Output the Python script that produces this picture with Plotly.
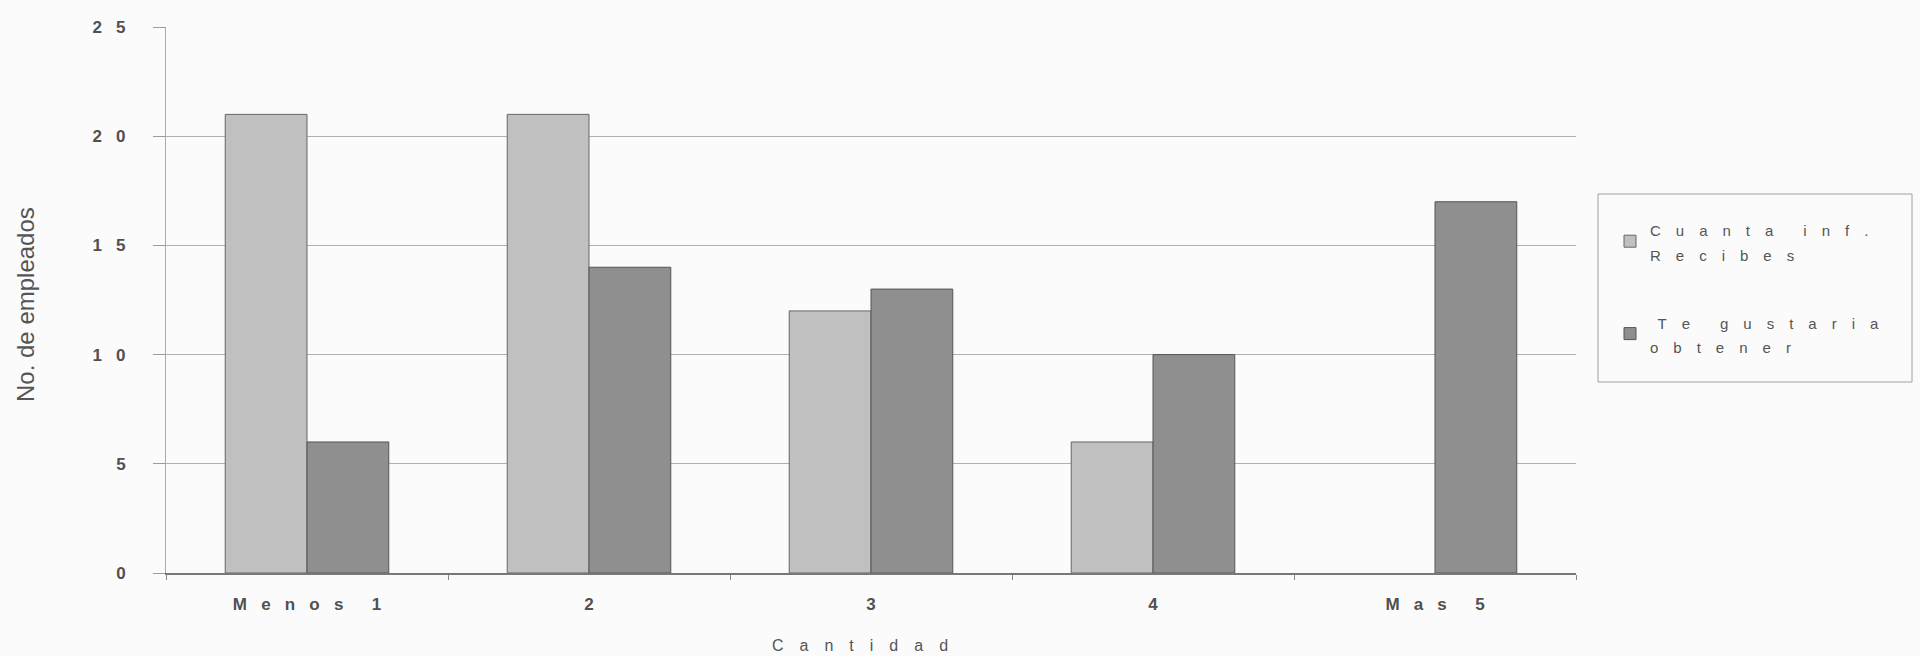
import plotly.graph_objects as go

categories = ["Menos 1", "2", "3", "4", "Mas 5"]
recibes = [21, 21, 12, 6, 0]
obtener = [6, 14, 13, 10, 17]
series_names = [["Cuanta inf.", "Recibes"], [" Te gustaria", "obtener"]]
y_ticks = [0, 5, 10, 15, 20, 25]
y_tick_labels = ["0", "5", "10", "15", "20", "25"]
x_title = "Cantidad"
y_title = "No. de empleados"

EM = "\u2003"
EN = "\u2002"
GAP_TICK = "\u2002\u2004"   # ~0.83 em letter spacing


def spaced(s, gap):
    # letter-spaced rendering as in the original (scanned Excel chart)
    out = []
    for i, ch in enumerate(s):
        if ch == " ":
            out.append(EN if i == 0 else gap)
        else:
            out.append(ch)
            if i < len(s) - 1:
                out.append(gap)
    return "".join(out)


def legend_name(parts):
    return "<br>".join(
        '<span style="font-size:15px">' + spaced(p, EM) + "</span>" for p in parts
    )


font_family = "Liberation Sans, Arial, sans-serif"
text_color = "#404040"

fig = go.Figure()
fig.add_trace(go.Bar(
    x=[spaced(c, GAP_TICK) for c in categories], y=recibes,
    name=legend_name(series_names[0]),
    legendgroup="a",
    marker=dict(color="#c0c0c0",
                line=dict(color="#666666", width=[1 if v > 0 else 0 for v in recibes])),
))
fig.add_trace(go.Bar(
    x=[spaced(c, GAP_TICK) for c in categories], y=obtener,
    name=legend_name(series_names[1]),
    legendgroup="b",
    marker=dict(color="#8f8f8f",
                line=dict(color="#555555", width=[1 if v > 0 else 0 for v in obtener])),
))

pl, pr, pt, pb = 166, 1576, 27, 573
pw, ph = pr - pl, pb - pt


def px_x(x):
    return (x - pl) / pw


def px_y(y):
    return (pb - y) / ph


fig.update_layout(
    width=1920, height=656,
    margin=dict(l=pl, r=1920 - pr, t=pt, b=656 - pb, autoexpand=False),
    paper_bgcolor="#fbfbfb",
    plot_bgcolor="#fbfbfb",
    barmode="group",
    bargap=0.42,
    bargroupgap=0,
    font=dict(family=font_family, color=text_color, size=14),
    showlegend=True,
    legend=dict(
        x=px_x(1610), y=px_y(210), xanchor="left", yanchor="top",
        borderwidth=0, bgcolor="rgba(0,0,0,0)",
        font=dict(size=19, color="#555555"),
        tracegroupgap=40,
        itemwidth=30,
    ),
    xaxis=dict(
        type="category",
        automargin=False,
        tickson="boundaries",
        ticks="outside", ticklen=5, tickcolor="#888888",
        showline=True, linecolor="#777777", linewidth=1.5,
        showgrid=False,
        ticklabelstandoff=15,
        tickfont=dict(size=17, weight="bold", color="#505050"),
    ),
    yaxis=dict(
        range=[0, 25],
        automargin=False,
        tickvals=y_ticks, ticktext=[GAP_TICK.join(t) for t in y_tick_labels],
        ticks="outside", ticklen=12, tickcolor="#999999",
        showline=True, linecolor="#aaaaaa", linewidth=1,
        showgrid=True, gridcolor="#b0b0b0", gridwidth=1,
        zeroline=False,
        ticklabelstandoff=24,
        tickfont=dict(size=17, weight="bold", color="#505050"),
    ),
    shapes=[dict(
        type="rect", xref="paper", yref="paper",
        x0=px_x(1598), x1=px_x(1912), y0=px_y(382), y1=px_y(194),
        line=dict(color="#a0a0a0", width=1), fillcolor="rgba(0,0,0,0)",
    )],
    annotations=[
        dict(
            text=y_title, textangle=-90,
            xref="paper", yref="paper", x=px_x(25), y=px_y(305),
            xanchor="center", yanchor="middle",
            showarrow=False, font=dict(size=24, color="#555555"),
        ),
        dict(
            text=spaced(x_title, EM),
            xref="paper", yref="paper", x=px_x(860), y=px_y(645),
            xanchor="center", yanchor="middle",
            showarrow=False, font=dict(size=16, color="#555555"),
        ),
    ],
)

fig.write_html("out.html")
